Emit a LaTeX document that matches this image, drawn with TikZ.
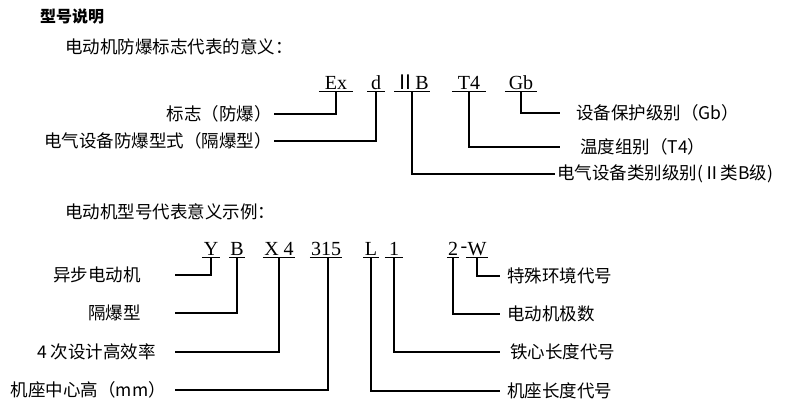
\documentclass[tikz,border=0pt]{standalone}
\usepackage{fontspec}
\setmainfont{Liberation Serif}
\newfontfamily\cjk{Noto Sans CJK SC}
\usetikzlibrary{positioning}
\tikzset{
  code/.style={inner sep=1pt, minimum height=14pt, anchor=south, font=\fontsize{20}{22}\selectfont},
  desc/.style={inner sep=2pt, font=\cjk\fontsize{17.5}{20}\selectfont},
  lead/.style={line width=1.1pt, black}
}
\begin{document}
\begin{tikzpicture}[x=1pt,y=-1pt]
  \useasboundingbox (0,0) rectangle (790,405);
  % headings
  \node[desc, anchor=west, font=\cjk\bfseries\fontsize{16}{18}\selectfont] (title) at (38,16) {型号说明};
  \node[desc, anchor=west] (sub1) at (63,47) {电动机防爆标志代表的意义：};
  \node[desc, anchor=west] (sub2) at (63,212) {电动机型号代表意义示例：};

  % explosion-proof marking
  \node[code, minimum width=34pt] (ex) at (336,91) {Ex};
  \node[code, minimum width=17pt] (d) at (376,91) {d};
  \node[code, minimum width=32pt] (iib) at (412,91) {{\cjk Ⅱ}B};
  \node[code, minimum width=34pt] (t4) at (469,91) {T4};
  \node[code, minimum width=32pt] (gb) at (521,91) {Gb};
  \foreach \c in {ex,d,iib,t4,gb}
    \draw[line width=1pt] (\c.south west) -- (\c.south east);

  \node[desc, anchor=east] (mark) at (274,114) {标志（防爆）};
  \node[desc, anchor=east] (type) at (274,141) {电气设备防爆型式（隔爆型）};
  \node[desc, anchor=west] (cls) at (555,174) {电气设备类别级别(Ⅱ类B级)};
  \node[desc, anchor=west] (temp) at (578,147) {温度组别（T4）};
  \node[desc, anchor=west] (epl) at (574,113) {设备保护级别（Gb）};

  \draw[lead] (ex.south) |- (mark.east);
  \draw[lead] (d.south) |- (type.east);
  \draw[lead] (iib.south) |- (cls.west);
  \draw[lead] (t4.south) |- ([xshift=-18pt]temp.west);
  \draw[lead] (gb.south) |- ([xshift=-14pt]epl.west);

  % motor model
  \node[code, minimum width=18pt] (y) at (211,257) {Y};
  \node[code, minimum width=14pt] (b) at (237,257) {B};
  \node[code, minimum width=32pt] (x4) at (279,257) {X 4};
  \node[code, minimum width=30pt] (n315) at (326,257) {315};
  \node[code, minimum width=15pt] (l) at (371,257) {L};
  \node[code, minimum width=18pt] (one) at (394,257) {1};
  \node[code, minimum width=12pt] (two) at (453,257) {2};
  \node[code, minimum width=6pt, inner sep=0pt] (dash) at (464,257) {-};
  \node[code, minimum width=18pt] (w) at (477,257) {W};
  \foreach \c in {y,b,x4,n315,l,one,two,w}
    \draw[line width=1pt] (\c.south west) -- (\c.south east);

  \node[desc, anchor=east] (async) at (143,275) {异步电动机};
  \node[desc, anchor=east] (flame) at (143,313) {隔爆型};
  \node[desc, anchor=east] (eff) at (158,352) {4 次设计高效率};
  \node[desc, anchor=east] (height) at (168,390) {机座中心高（mm）};
  \node[desc, anchor=west] (env) at (505,276) {特殊环境代号};
  \node[desc, anchor=west] (poles) at (505,314) {电动机极数};
  \node[desc, anchor=west] (core) at (508,352) {铁心长度代号};
  \node[desc, anchor=west] (frame) at (505,391) {机座长度代号};

  \draw[lead] (y.south) |- ([xshift=32pt]async.east);
  \draw[lead] (b.south) |- ([xshift=32pt]flame.east);
  \draw[lead] (x4.south) |- ([xshift=17pt]eff.east);
  \draw[lead] ([xshift=2pt]n315.south) |- ([xshift=7pt]height.east);
  \draw[lead] (l.south) |- ([xshift=-5pt]frame.west);
  \draw[lead] (one.south) |- ([xshift=-8pt]core.west);
  \draw[lead] (two.south) |- ([xshift=-5pt]poles.west);
  \draw[lead] (w.south) |- ([xshift=-5pt]env.west);
\end{tikzpicture}
\end{document}
